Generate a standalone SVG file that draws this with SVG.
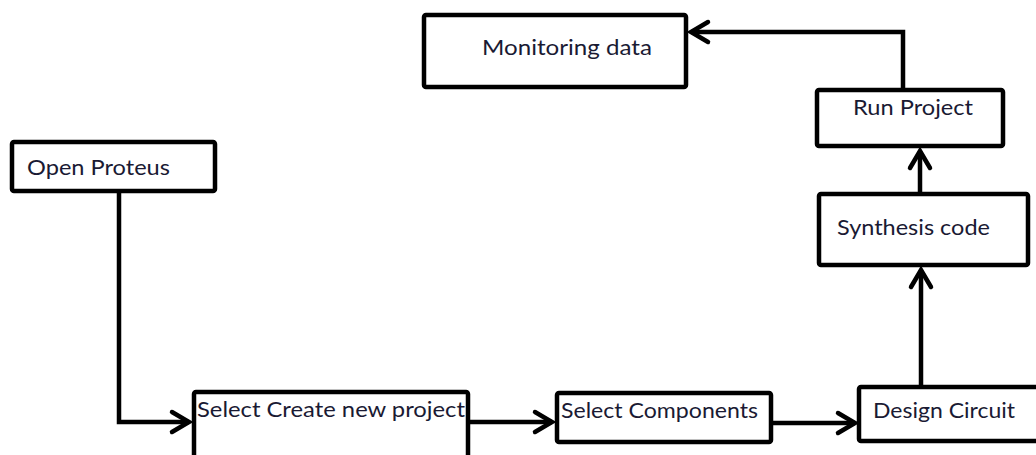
<svg xmlns="http://www.w3.org/2000/svg" width="1036" height="455" viewBox="0 0 1036 455">
  <defs>
    <marker id="arrow" markerUnits="userSpaceOnUse" markerWidth="30" markerHeight="30" viewBox="-22 -15 30 30" refX="0" refY="0" orient="auto">
      <path d="M-17,-10 L0,0 L-17,10" fill="none" stroke="#000" stroke-width="4.5" stroke-linecap="round" stroke-linejoin="miter"/>
    </marker>
    <style>
      .box { fill: #fff; stroke: #000; stroke-width: 4.5; }
      .lbl { font-family: Lato, "Open Sans", "Liberation Sans", sans-serif; font-size: 22px; fill: #1a1a33; }
      .conn { fill: none; stroke: #000; stroke-width: 4.5; marker-end: url(#arrow); }
    </style>
  </defs>
  <rect width="1036" height="455" fill="#fff"/>

  <g id="connectors">
    <polyline class="conn" points="119,193 119,422 189,422"/>
    <polyline class="conn" points="470,422 552,422"/>
    <polyline class="conn" points="773,423 855,423"/>
    <polyline class="conn" points="921,385 921,270"/>
    <polyline class="conn" points="920,192 920,151"/>
    <polyline class="conn" points="903,88 903,32 691,32"/>
  </g>

  <g id="monitoring-data">
    <rect class="box" x="424" y="15" width="262" height="72" rx="2"/>
    <text class="lbl" x="482" y="55" textLength="170" lengthAdjust="spacingAndGlyphs">Monitoring data</text>
  </g>
  <g id="run-project">
    <rect class="box" x="817" y="90" width="186" height="56" rx="2"/>
    <text class="lbl" x="853" y="115" textLength="120" lengthAdjust="spacingAndGlyphs">Run Project</text>
  </g>
  <g id="synthesis-code">
    <rect class="box" x="819" y="194" width="209" height="71" rx="2"/>
    <text class="lbl" x="837" y="235" textLength="153" lengthAdjust="spacingAndGlyphs">Synthesis code</text>
  </g>
  <g id="open-proteus">
    <rect class="box" x="12" y="142" width="203" height="49" rx="2"/>
    <text class="lbl" x="27" y="175" textLength="143" lengthAdjust="spacingAndGlyphs">Open Proteus</text>
  </g>
  <g id="select-create-new-project">
    <rect class="box" x="194" y="392" width="274" height="80" rx="2"/>
    <text class="lbl" x="197" y="417" textLength="268" lengthAdjust="spacingAndGlyphs">Select Create new project</text>
  </g>
  <g id="select-components">
    <rect class="box" x="557" y="393" width="214" height="49" rx="2"/>
    <text class="lbl" x="561" y="418" textLength="197" lengthAdjust="spacingAndGlyphs">Select Components</text>
  </g>
  <g id="design-circuit">
    <rect class="box" x="859" y="387" width="200" height="54" rx="2"/>
    <text class="lbl" x="873" y="418" textLength="142" lengthAdjust="spacingAndGlyphs">Design Circuit</text>
  </g>
</svg>
